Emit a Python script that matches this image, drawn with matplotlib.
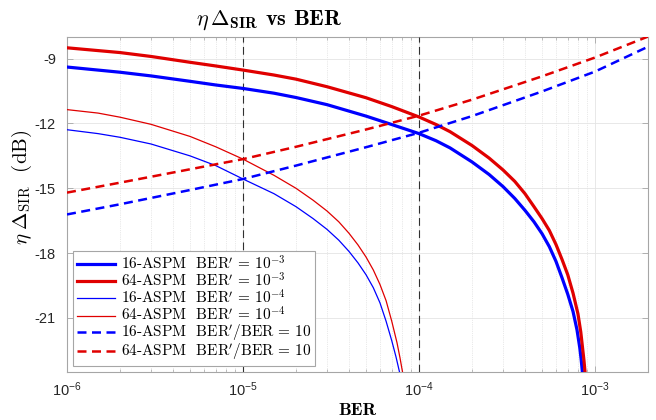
import math
import matplotlib
matplotlib.use('Agg')
import matplotlib.pyplot as plt
from matplotlib.ticker import FixedLocator, NullFormatter, FuncFormatter

# values (BER, dB)
ber_16_e3 = [1e-6, 2e-6, 3e-6, 5e-6, 7e-6, 1e-5, 1.5e-5, 2e-5, 3e-5, 5e-5, 7e-5, 1e-4,
             1.25e-4, 1.5e-4, 2e-4, 2.5e-4, 3e-4, 3.5e-4, 4e-4, 4.5e-4, 5e-4, 5.5e-4,
             6e-4, 6.5e-4, 7e-4, 7.5e-4, 7.9e-4, 8.2e-4, 8.35e-4, 8.5e-4]
sir_16_e3 = [-9.39, -9.63, -9.80, -10.05, -10.22, -10.38, -10.60, -10.80, -11.13, -11.66,
             -12.05, -12.47, -12.80, -13.13, -13.78, -14.36, -14.92, -15.47, -16.02,
             -16.55, -17.10, -17.70, -18.38, -19.15, -19.90, -20.70, -21.55, -22.40,
             -22.95, -23.6]

ber_64_e3 = [1e-6, 2e-6, 3e-6, 5e-6, 7e-6, 1e-5, 1.5e-5, 2e-5, 3e-5, 5e-5, 7e-5, 1e-4,
             1.25e-4, 1.5e-4, 2e-4, 2.5e-4, 3e-4, 3.5e-4, 4e-4, 4.5e-4, 5e-4, 5.5e-4,
             6e-4, 6.5e-4, 7e-4, 7.5e-4, 8e-4, 8.3e-4, 8.5e-4, 8.65e-4, 8.8e-4]
sir_64_e3 = [-8.50, -8.72, -8.90, -9.17, -9.34, -9.53, -9.76, -9.95, -10.30, -10.81,
             -11.22, -11.70, -12.05, -12.38, -13.02, -13.60, -14.15, -14.68, -15.25,
             -15.85, -16.40, -16.95, -17.60, -18.30, -19.00, -19.85, -20.81, -21.65,
             -22.40, -22.95, -23.6]

ber_16_e4 = [1e-6, 1.5e-6, 2e-6, 3e-6, 5e-6, 7e-6, 1e-5, 1.5e-5, 2e-5, 2.5e-5, 3e-5,
             3.5e-5, 4e-5, 4.5e-5, 5e-5, 5.5e-5, 6e-5, 6.5e-5, 7e-5, 7.4e-5, 7.8e-5]
sir_16_e4 = [-12.29, -12.47, -12.64, -12.95, -13.50, -13.95, -14.57, -15.25, -15.85,
             -16.40, -16.90, -17.40, -17.92, -18.45, -19.00, -19.60, -20.30, -21.15,
             -22.05, -22.80, -23.6]

ber_64_e4 = [1e-6, 1.5e-6, 2e-6, 3e-6, 5e-6, 7e-6, 1e-5, 1.5e-5, 2e-5, 2.5e-5, 3e-5,
             3.5e-5, 4e-5, 4.5e-5, 5e-5, 5.5e-5, 6e-5, 6.5e-5, 7e-5, 7.5e-5, 7.8e-5, 8.1e-5]
sir_64_e4 = [-11.36, -11.52, -11.71, -12.04, -12.60, -13.08, -13.65, -14.40, -15.00,
             -15.55, -16.05, -16.55, -17.08, -17.62, -18.18, -18.78, -19.45, -20.20,
             -21.15, -22.15, -22.85, -23.6]

ber_ratio = [1e-6, 2e-6, 5e-6, 1e-5, 2e-5, 5e-5, 1e-4, 2e-4, 5e-4, 1e-3, 2e-3]
sir_16_ratio = [-16.21, -15.74, -15.08, -14.57, -13.95, -13.10, -12.43, -11.66, -10.52, -9.60, -8.45]
sir_64_ratio = [-15.20, -14.74, -14.12, -13.65, -13.08, -12.28, -11.64, -10.90, -9.82, -8.95, -7.98]

ref_bers = [1e-5, 1e-4]
x_major = [1e-6, 1e-5, 1e-4, 1e-3]
y_ticks = [-21, -18, -15, -12, -9]

labels = [r"16-ASPM  $\mathrm{BER}'\,=\,10^{-3}$",
          r"64-ASPM  $\mathrm{BER}'\,=\,10^{-3}$",
          r"16-ASPM  $\mathrm{BER}'\,=\,10^{-4}$",
          r"64-ASPM  $\mathrm{BER}'\,=\,10^{-4}$",
          r"16-ASPM  $\mathrm{BER}'/\mathrm{BER}\,=\,10$",
          r"64-ASPM  $\mathrm{BER}'/\mathrm{BER}\,=\,10$"]

plt.rcParams['mathtext.fontset'] = 'cm'
# 'custom' math set is only used for the tick labels (Helvetica-like)
plt.rcParams['mathtext.rm'] = 'Liberation Sans'
plt.rcParams['mathtext.it'] = 'Liberation Sans:italic'
plt.rcParams['mathtext.bf'] = 'Liberation Sans:bold'
plt.rcParams['axes.unicode_minus'] = False

blue = '#0000ff'
red = '#e00000'
edge = '#a6a6a6'
txt = '#262626'

fig = plt.figure(figsize=(6.56, 4.2), dpi=100)
ax = fig.add_axes([67/656, 1-372/420, (648-67)/656, (372-37)/420])

ax.plot(ber_16_e3, sir_16_e3, color=blue, lw=2.3, label=labels[0], zorder=4)
ax.plot(ber_64_e3, sir_64_e3, color=red, lw=2.3, label=labels[1], zorder=4)
ax.plot(ber_16_e4, sir_16_e4, color=blue, lw=0.9, label=labels[2], zorder=4)
ax.plot(ber_64_e4, sir_64_e4, color=red, lw=0.9, label=labels[3], zorder=4)
ax.plot(ber_ratio, sir_16_ratio, color=blue, lw=1.8, dashes=(3.6, 2.2), label=labels[4], zorder=4)
ax.plot(ber_ratio, sir_64_ratio, color=red, lw=1.8, dashes=(3.6, 2.2), label=labels[5], zorder=4)

for b in ref_bers:
    ax.axvline(b, color='#303030', lw=0.8, dashes=(7, 4), zorder=3)

ax.set_xscale('log')
ax.set_xlim(1e-6, 2e-3)
ax.set_ylim(-23.5, -8)

ax.xaxis.set_major_locator(FixedLocator(x_major))
ax.xaxis.set_minor_locator(FixedLocator([m * 10.0**e for e in range(-6, -2) for m in range(2, 10)]))
ax.xaxis.set_minor_formatter(NullFormatter())
ax.xaxis.set_major_formatter(FuncFormatter(lambda v, p: r'$10^{%d}$' % round(math.log10(v))))
ax.yaxis.set_major_locator(FixedLocator(y_ticks))
ax.yaxis.set_major_formatter(FuncFormatter(lambda v, p: '%d' % v))

ax.grid(which='major', color='#e4e4e4', lw=0.6, ls='-', zorder=0)
ax.grid(which='minor', axis='x', color='#d4d4d4', lw=0.5, ls=':', zorder=0)
ax.set_axisbelow(True)

ax.tick_params(which='both', direction='in', top=True, right=True, color=edge,
               labelcolor=txt, labelsize=10.5)
ax.tick_params(which='major', length=4, width=0.6)
ax.tick_params(which='minor', length=2.5, width=0.5)
ax.tick_params(axis='y', pad=8)
ax.tick_params(axis='x', pad=6)
for s in ax.spines.values():
    s.set_color(edge)
    s.set_linewidth(0.8)

fig.canvas.draw()
for lbl in ax.get_xticklabels() + ax.get_yticklabels():
    lbl.set_fontfamily('Liberation Sans')
    lbl.set_math_fontfamily('custom')

ax.set_title(r'$\eta\,\mathbf{\Delta}_{\mathbf{SIR}}$ vs BER', fontfamily='cmb10',
             fontsize=16, x=0.348, pad=9)
ax.set_xlabel('BER', fontfamily='cmb10', fontsize=13, labelpad=3)
ax.set_ylabel(r'$\eta\;\mathbf{\Delta}_{\mathrm{SIR}}$  (dB)', fontfamily='cmr10',
              fontsize=15)
ax.yaxis.set_label_coords(-0.056, 0.55)

leg = ax.legend(loc='lower left', prop={'family': 'cmr10', 'size': 11},
                handlelength=2.5, handletextpad=0.4, borderpad=0.25,
                labelspacing=-0.07, borderaxespad=0.4, fancybox=False,
                framealpha=1, edgecolor=edge)
leg.get_frame().set_linewidth(0.8)

fig.savefig('out.png', dpi=100)
